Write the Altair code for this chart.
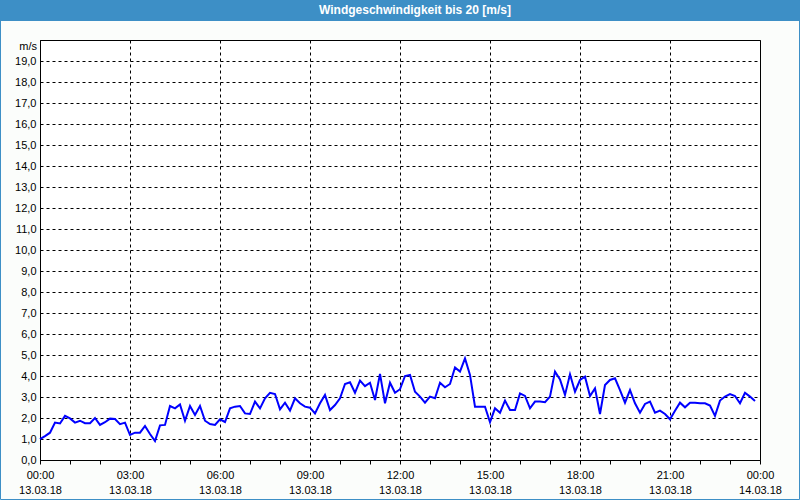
import altair as alt
import pandas as pd

# Wind speed [m/s], 10-minute samples from 13.03.18 00:00 to 23:50
speed = [
    0.99, 1.14, 1.30, 1.78, 1.74, 2.10, 1.98, 1.78, 1.87, 1.75, 1.75, 2.00,
    1.67, 1.80, 1.97, 1.95, 1.71, 1.78, 1.19, 1.30, 1.30, 1.62, 1.24, 0.90,
    1.65, 1.67, 2.57, 2.46, 2.65, 1.87, 2.57, 2.14, 2.57, 1.87, 1.71, 1.67,
    1.94, 1.81, 2.46, 2.54, 2.57, 2.22, 2.19, 2.78, 2.46, 2.94, 3.20, 3.14,
    2.41, 2.73, 2.35, 2.94, 2.70, 2.54, 2.49, 2.22, 2.70, 3.10, 2.38, 2.62,
    2.94, 3.62, 3.70, 3.20, 3.78, 3.52, 3.68, 2.86, 4.10, 2.70, 3.68, 3.20,
    3.37, 4.00, 4.05, 3.25, 3.02, 2.73, 3.02, 2.94, 3.68, 3.46, 3.62, 4.41,
    4.21, 4.84, 4.05, 2.54, 2.54, 2.54, 1.80, 2.46, 2.25, 2.83, 2.38, 2.38,
    3.17, 3.05, 2.46, 2.78, 2.78, 2.75, 3.02, 4.21, 3.84, 3.10, 4.08, 3.25,
    3.81, 3.97, 3.05, 3.41, 2.19, 3.57, 3.81, 3.89, 3.33, 2.73, 3.33, 2.70,
    2.25, 2.67, 2.78, 2.25, 2.35, 2.19, 1.94, 2.35, 2.73, 2.51, 2.73, 2.73,
    2.70, 2.70, 2.59, 2.10, 2.83, 3.02, 3.14, 3.05, 2.70, 3.20, 3.02, 2.81,
]
step_minutes = 10
hours = [i * step_minutes / 60 for i in range(len(speed))]

x_tick_hours = list(range(25))
label_hours = [0, 3, 6, 9, 12, 15, 18, 21, 24]
time_labels = ["00:00", "03:00", "06:00", "09:00", "12:00", "15:00", "18:00", "21:00", "00:00"]
date_labels = ["13.03.18"] * 8 + ["14.03.18"]
y_tick_values = list(range(20))

title_text = "Windgeschwindigkeit bis 20 [m/s]"
unit_text = "m/s"

FONT = "Liberation Sans"
BLUE_FRAME = "#3d8fc6"

df = pd.DataFrame({"h": hours, "v": speed})

x_label_expr = "''"
for h, t, d in reversed(list(zip(label_hours, time_labels, date_labels))):
    x_label_expr = f"datum.value == {h} ? ['{t}', '{d}'] : ({x_label_expr})"

line = alt.Chart(df).mark_line(color="#0000ff", strokeWidth=2).encode(
    x=alt.X(
        "h:Q",
        scale=alt.Scale(domain=[0, 24], nice=False, zero=False),
        axis=alt.Axis(
            values=x_tick_hours,
            title=None,
            labelExpr=x_label_expr,
            grid=True,
            gridOpacity={"condition": {"test": "datum.value % 3 == 0", "value": 1}, "value": 0},
            tickSize=4,
            labelPadding=5,
            labelLineHeight=15,
            labelFlush=False,
            labelOverlap=False,
            labelBound=False,
        ),
    ),
    y=alt.Y(
        "v:Q",
        scale=alt.Scale(domain=[0, 20], nice=False),
        axis=alt.Axis(
            values=y_tick_values,
            title=None,
            ticks=False,
            tickSize=0,
            labelPadding=4,
            labelExpr="replace(format(datum.value, '.1f'), '.', ',')",
            grid=True,
            labelOverlap=False,
            labelFlush=False,
        ),
    ),
)

one = alt.Data(values=[{}])

title_bar = alt.Chart(one).mark_rect(color=BLUE_FRAME).encode(
    x=alt.value(-40), x2=alt.value(760), y=alt.value(-40), y2=alt.value(-19)
)
frame = alt.Chart(one).mark_rect(fillOpacity=0, stroke=BLUE_FRAME, strokeWidth=1).encode(
    x=alt.value(-39.5), x2=alt.value(759.5), y=alt.value(-39.5), y2=alt.value(459.5)
)
title = alt.Chart(one).mark_text(
    text=title_text, font=FONT, fontSize=12, fontWeight="bold", color="white",
    align="center", baseline="middle",
).encode(x=alt.value(375), y=alt.value(-30))
unit = alt.Chart(one).mark_text(
    text=unit_text, font=FONT, fontSize=11, color="black", align="right", baseline="middle",
).encode(x=alt.value(-3), y=alt.value(7))

chart = alt.layer(title_bar, frame, title, unit, line).properties(
    width=720,
    height=420,
    padding={"left": 40, "top": 40, "right": 40, "bottom": 40},
    autosize=alt.AutoSizeParams(type="none"),
).configure(
    background="#fbfdfb",
).configure_view(
    stroke="black", strokeWidth=1, fill="white",
).configure_axis(
    labelFont=FONT, labelFontSize=11, labelColor="black",
    domainColor="black", tickColor="black",
    gridColor="black", gridDash=[3, 3], gridWidth=1,
)

chart.save("out.html", embed_options={"renderer": "svg", "actions": False})
